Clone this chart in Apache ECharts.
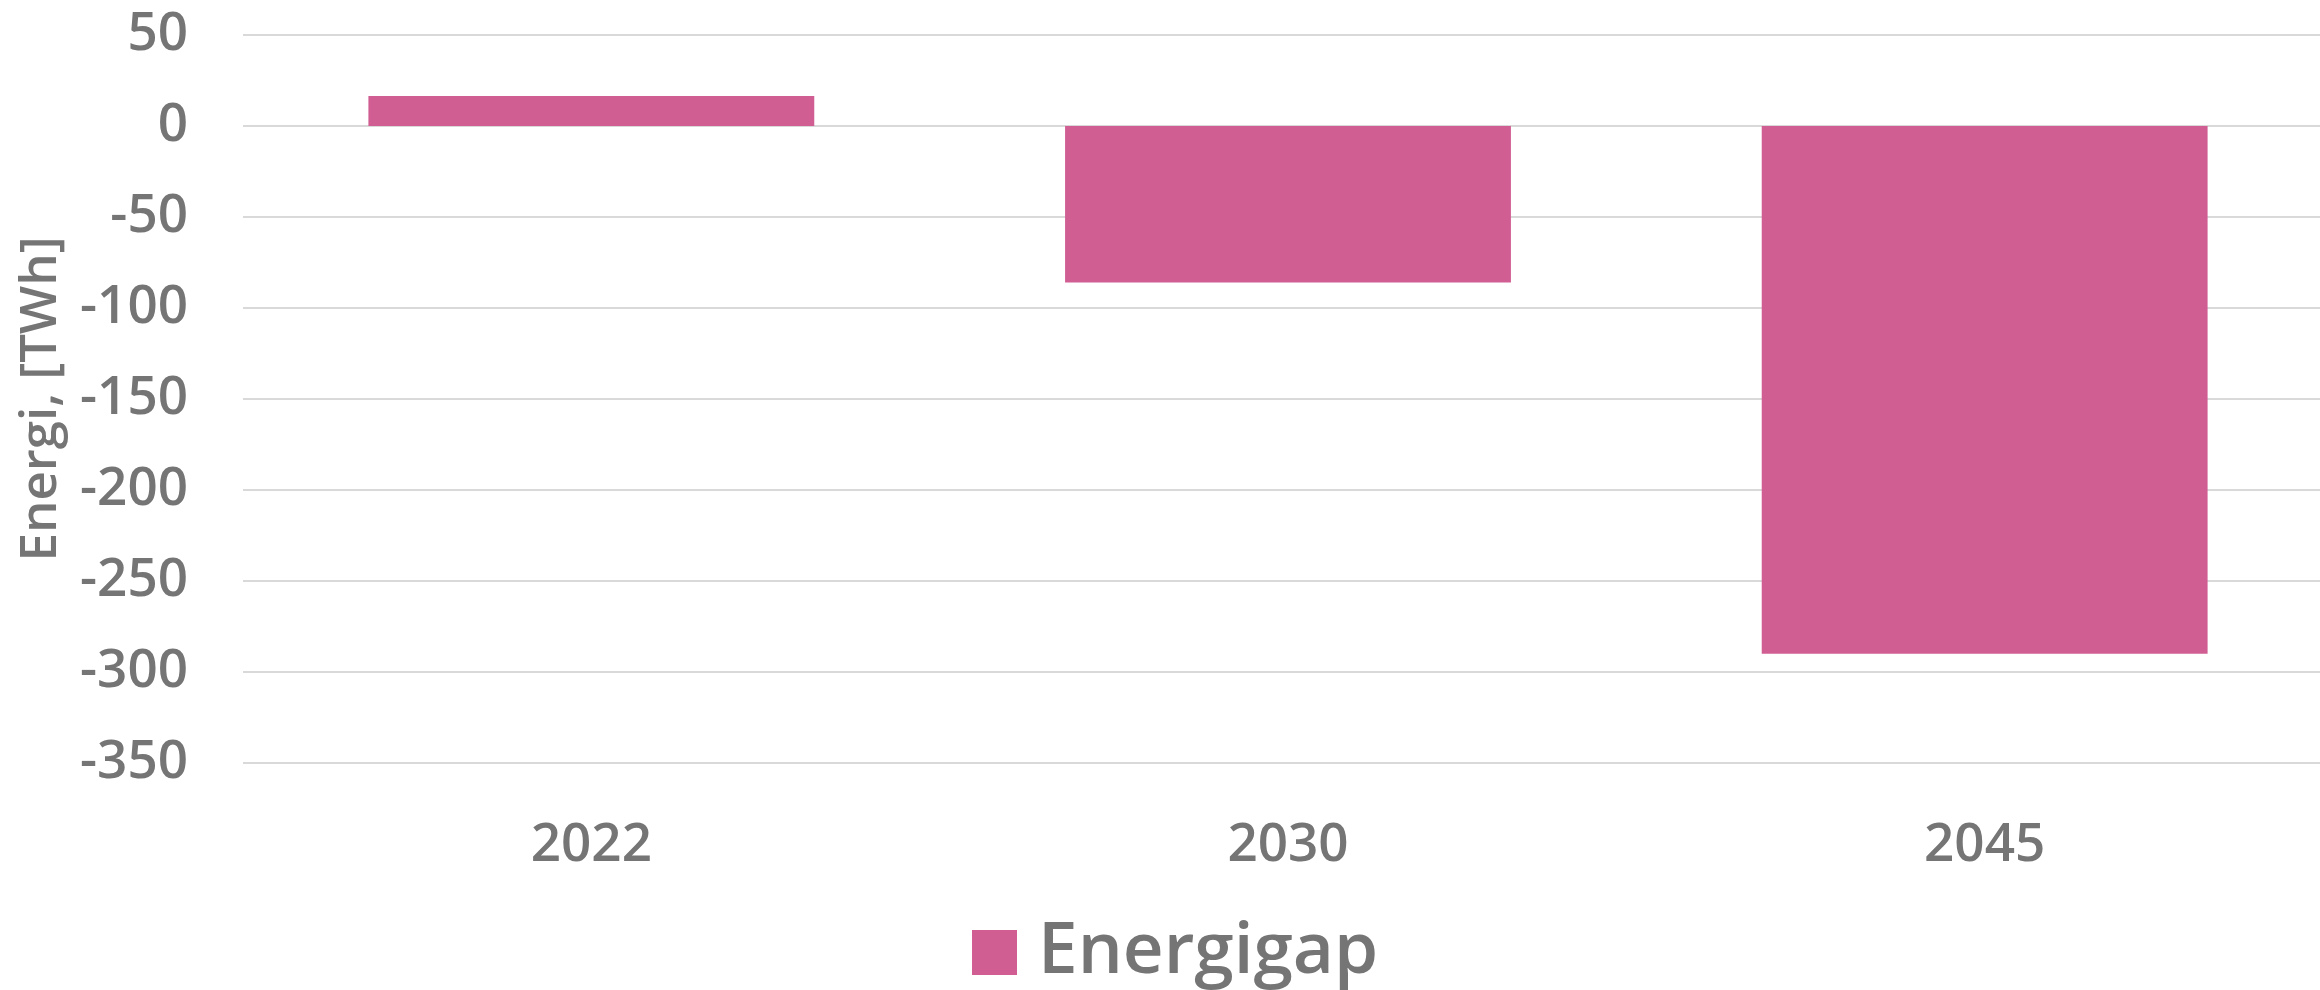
<!DOCTYPE html>
<html>
<head>
<meta charset="utf-8">
<script src="https://cdn.jsdelivr.net/npm/echarts@6/dist/echarts.min.js"></script>
<style>
  html, body { margin: 0; padding: 0; background: #ffffff; }
  #chart { width: 2320px; height: 990px; }
</style>
</head>
<body>
<div id="chart"></div>
<script>
// Energy gap per year (TWh)
const years = ['2022', '2030', '2045'];
const energigap = [16.5, -86, -290];
const seriesName = 'Energigap';
const yAxisTitle = 'Energi, [TWh]';
const yMin = -350;
const yMax = 50;
const yStep = 50;

const textColor = '#757575';
const fontFamily = '"Open Sans", "Noto Sans", sans-serif';
const weight = 600;

const chart = echarts.init(document.getElementById('chart'), null, { renderer: 'canvas' });

chart.setOption({
  animation: false,
  backgroundColor: '#ffffff',
  textStyle: { fontFamily: fontFamily, color: textColor },
  // plot area runs slightly past the right edge of the canvas
  grid: { left: 243, width: 2090, top: 35, bottom: 227, containLabel: false, outerBoundsMode: 'none' },
  legend: {
    data: [seriesName],
    left: 967,
    top: 912,
    icon: 'rect',
    itemWidth: 45,
    itemHeight: 45,
    itemGap: 20,
    textStyle: { fontSize: 71, fontWeight: weight, color: textColor, fontFamily: fontFamily, padding: [0, 0, 0, 16] }
  },
  xAxis: {
    type: 'category',
    data: years,
    axisLine: { show: false },
    axisTick: { show: false },
    axisLabel: { fontSize: 53, fontWeight: weight, color: textColor, margin: 56, fontFamily: fontFamily },
    splitLine: { show: false }
  },
  yAxis: {
    type: 'value',
    min: yMin,
    max: yMax,
    interval: yStep,
    name: yAxisTitle,
    nameLocation: 'middle',
    nameGap: 176,
    nameTextStyle: { fontSize: 51, fontWeight: weight, color: textColor, fontFamily: fontFamily },
    axisLine: { show: false },
    axisTick: { show: false },
    axisLabel: { fontSize: 53, fontWeight: weight, color: textColor, margin: 55, fontFamily: fontFamily },
    splitLine: { show: true, lineStyle: { color: '#d9d9d9', width: 2 } }
  },
  series: [{
    name: seriesName,
    type: 'bar',
    data: energigap,
    barWidth: '64%',
    itemStyle: { color: '#d15e93' }
  }]
});
</script>
</body>
</html>
